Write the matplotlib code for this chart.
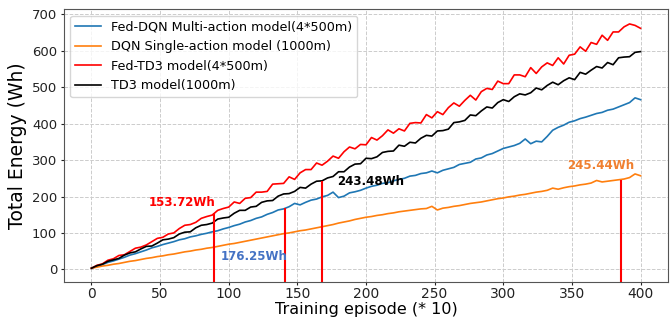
import matplotlib
matplotlib.use("Agg")
import matplotlib.pyplot as plt

episodes = list(range(0, 401, 4))

fed_dqn = [3, 8, 13, 19, 23, 28, 33, 39, 43, 48, 53, 59, 63, 68, 72, 76, 81, 84, 89, 92,
           96, 99, 103, 106, 111, 115, 120, 124, 130, 134, 140, 144, 151, 156, 163, 166, 172, 181, 177, 184,
           190, 193, 199, 203, 212, 197, 201, 210, 213, 217, 223, 228, 231, 236, 238, 243, 247, 250, 256, 258,
           263, 265, 270, 265, 272, 276, 280, 288, 291, 294, 303, 306, 314, 318, 325, 332, 336, 340, 346, 358,
           345, 352, 350, 365, 382, 390, 396, 404, 408, 414, 418, 423, 428, 431, 437, 440, 446, 452, 458, 471,
           466]

dqn = [3, 6, 9, 11, 14, 16, 19, 22, 24, 27, 30, 32, 35, 37, 40, 42, 45, 48, 50, 53,
       55, 58, 60, 63, 66, 69, 71, 74, 77, 80, 83, 86, 89, 92, 95, 98, 100, 103, 106, 108,
       111, 114, 117, 120, 123, 127, 130, 133, 137, 140, 143, 145, 148, 150, 153, 155, 158, 160, 162, 164,
       166, 167, 173, 163, 168, 170, 173, 175, 178, 181, 183, 185, 188, 191, 194, 196, 199, 201, 204, 206,
       209, 212, 214, 217, 223, 220, 224, 227, 229, 232, 234, 237, 244, 240, 242, 244, 246, 248, 252, 262,
       257]

fed_td3 = [3, 11, 15, 25, 29, 38, 40, 49, 58, 61, 67, 76, 85, 88, 97, 100, 112, 121, 123, 129,
           140, 145, 149, 162, 167, 171, 185, 181, 195, 197, 212, 212, 214, 234, 235, 236, 254, 247, 265, 274,
           274, 292, 286, 297, 311, 305, 323, 336, 331, 343, 342, 362, 355, 367, 383, 374, 386, 380, 401, 403,
           402, 425, 416, 433, 425, 444, 457, 448, 464, 478, 465, 488, 497, 494, 517, 510, 510, 534, 534, 529,
           554, 538, 556, 567, 560, 581, 564, 588, 591, 611, 599, 623, 618, 643, 629, 652, 652, 666, 674, 670,
           662]

td3 = [3, 10, 14, 22, 26, 30, 39, 45, 48, 56, 63, 64, 72, 81, 83, 87, 97, 102, 103, 114,
       121, 123, 127, 138, 141, 143, 154, 162, 162, 171, 173, 184, 188, 189, 201, 207, 208, 214, 225, 223,
       234, 242, 243, 251, 255, 268, 268, 281, 289, 290, 305, 304, 309, 321, 324, 325, 341, 338, 349, 347,
       360, 368, 366, 380, 381, 385, 403, 405, 409, 424, 422, 435, 446, 443, 458, 466, 461, 474, 482, 479,
       485, 498, 493, 505, 514, 507, 518, 526, 521, 541, 536, 547, 557, 553, 568, 562, 581, 583, 584, 596,
       598]

series_labels = ["Fed-DQN Multi-action model(4*500m)", "DQN Single-action model (1000m)",
                 "Fed-TD3 model(4*500m)", "TD3 model(1000m)"]
series_colors = ["#1f77b4", "#ff7f0e", "red", "black"]

marker_x = [89.5, 141, 168, 386]
marker_top = [153.72, 168, 243.48, 245.44]
marker_text = ["153.72Wh", "176.25Wh", "243.48Wh", "245.44Wh"]
text_pos = [(66, 183), (118.5, 34), (203.6, 240), (371, 284)]
text_colors = ["red", "#4472c4", "black", "#f08030"]

fig = plt.figure(figsize=(6.7, 3.2), dpi=100)
ax = fig.add_axes([0.0955, 0.1197, 0.9015, 0.851])

for ys, lab, col in zip([fed_dqn, dqn, fed_td3, td3], series_labels, series_colors):
    ax.plot(episodes, ys, color=col, lw=1.2, label=lab)

ax.set_xlim(-20, 420)
ax.set_ylim(-34, 714)
ymin = -34
ax.vlines(marker_x, ymin, marker_top, colors="red", lw=1.5)
for t, (tx, ty), c in zip(marker_text, text_pos, text_colors):
    ax.text(tx, ty, t, color=c, fontsize=8.5, fontweight="bold", ha="center", va="center")

ax.set_xticks(range(0, 401, 50))
ax.set_yticks(range(0, 701, 100))
ax.tick_params(axis="x", labelsize=10, colors="#222222", length=2.5, pad=1.5)
ax.tick_params(axis="y", labelsize=9.5, colors="#222222", length=2.5, pad=2.5)
ax.grid(True, linestyle="--", color="#cccccc", lw=0.7)
ax.set_axisbelow(True)
for s in ax.spines.values():
    s.set_color("#555555")
ax.set_xlabel("Training episode (* 10)", fontsize=11.5)
ax.set_ylabel("Total Energy (Wh)", fontsize=13.5)
ax.xaxis.set_label_coords(0.5, -0.075)
ax.yaxis.set_label_coords(-0.061, 0.5)
ax.legend(loc="upper left", fontsize=9.2, handlelength=2.0, framealpha=0.8)

fig.savefig("out.png", dpi=100)
